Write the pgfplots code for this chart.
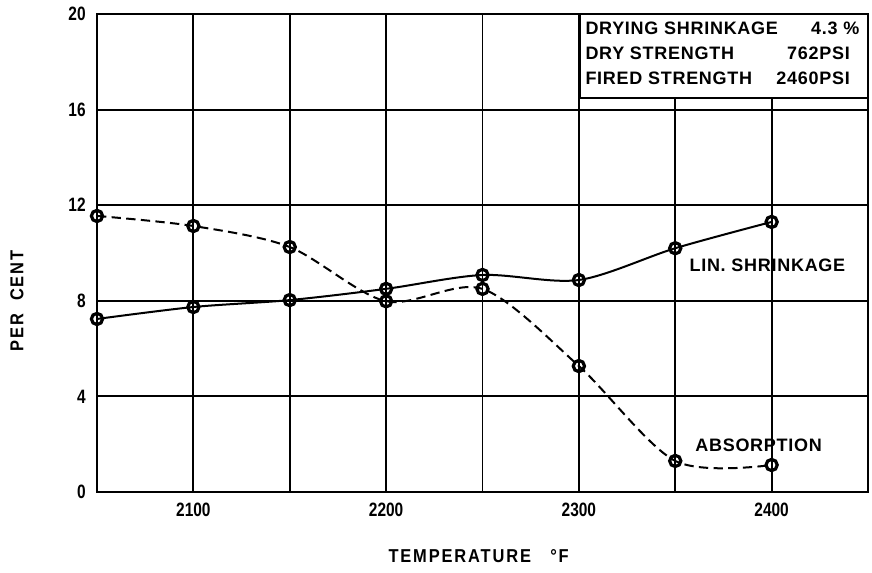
\documentclass[border=0pt]{standalone}
\usepackage{fontspec}
\setmainfont{Liberation Sans}
\newfontfamily\tickf{Liberation Sans}[FakeStretch=0.8]
\newfontfamily\labf{Liberation Sans}[FakeStretch=0.88, LetterSpace=10]
\newfontfamily\annf{Liberation Sans}[LetterSpace=4]
\usepackage{pgfplots}
\pgfplotsset{compat=1.18}
\begin{document}
\begin{tikzpicture}[x=1pt,y=1pt]
\begin{axis}[
  at={(72.75pt,60pt)}, anchor=south west,
  scale only axis, width=578.25pt, height=358.5pt,
  xmin=2050, xmax=2450, ymin=0, ymax=20,
  xtick={2050,2100,...,2450},
  xticklabels={,2100,,2200,,2300,,2400,},
  ytick={0,4,8,12,16,20},
  major tick length=0pt,
  grid=major,
  grid style={black, line width=1.4pt},
  axis line style={black, line width=2.2pt},
  font=\bfseries\fontsize{12}{14}\selectfont,
  tick label style={font=\tickf\bfseries\fontsize{14.5}{16}\selectfont},
  /pgf/number format/assume math mode=true,
  /pgf/number format/1000 sep={},
  xticklabel style={yshift=-5pt},
  yticklabel style={xshift=-5pt},
  xlabel={\labf\bfseries\fontsize{14}{16}\selectfont TEMPERATURE\ \ \ °F},
  ylabel={\labf\bfseries\fontsize{14}{16}\selectfont PER\ \ CENT},
  xlabel style={at={(axis description cs:0.495,0)}, anchor=center, yshift=-48pt},
  ylabel style={at={(axis description cs:0,0.40)}, anchor=center, yshift=60pt},
  clip=false,
]
\addplot[black, line width=1.5pt, smooth, tension=0.5, dash pattern=on 7pt off 4pt,
  mark=o, mark size=4.2pt, mark options={solid, line width=2.4pt, fill=white}]
  coordinates {(2050,11.55) (2100,11.13) (2150,10.25) (2200,7.98) (2250,8.5) (2300,5.27) (2350,1.3) (2400,1.13)};
\addplot[black, line width=1.5pt, smooth, tension=0.5,
  mark=o, mark size=4.2pt, mark options={solid, line width=2.4pt, fill=white}]
  coordinates {(2050,7.24) (2100,7.74) (2150,8.03) (2200,8.5) (2250,9.08) (2300,8.87) (2350,10.2) (2400,11.3)};
\node[anchor=west, font=\annf\bfseries\fontsize{13.5}{15}\selectfont] at (axis cs:2355,9.5) {LIN. SHRINKAGE};
\node[anchor=west, font=\annf\bfseries\fontsize{13.5}{15}\selectfont] at (axis cs:2358,1.95) {ABSORPTION};
\draw[black, line width=1.6pt, fill=white] (axis cs:2300.5,20) rectangle (axis cs:2450,16.5);
\node[anchor=west, font=\annf\bfseries\fontsize{13.5}{15}\selectfont] at (axis cs:2301,19.41) {DRYING SHRINKAGE};
\node[anchor=west, font=\annf\bfseries\fontsize{13.5}{15}\selectfont] at (axis cs:2301,18.37) {DRY STRENGTH};
\node[anchor=west, font=\annf\bfseries\fontsize{13.5}{15}\selectfont] at (axis cs:2301,17.32) {FIRED STRENGTH};
\node[anchor=east, font=\annf\bfseries\fontsize{13.5}{15}\selectfont] at (axis cs:2448,19.41) {4.3\ \%};
\node[anchor=east, font=\annf\bfseries\fontsize{13.5}{15}\selectfont] at (axis cs:2443,18.37) {762PSI};
\node[anchor=east, font=\annf\bfseries\fontsize{13.5}{15}\selectfont] at (axis cs:2443,17.32) {2460PSI};
\end{axis}
\pgfresetboundingbox
\path (0,0) rectangle (654pt,429pt);
\end{tikzpicture}
\end{document}
